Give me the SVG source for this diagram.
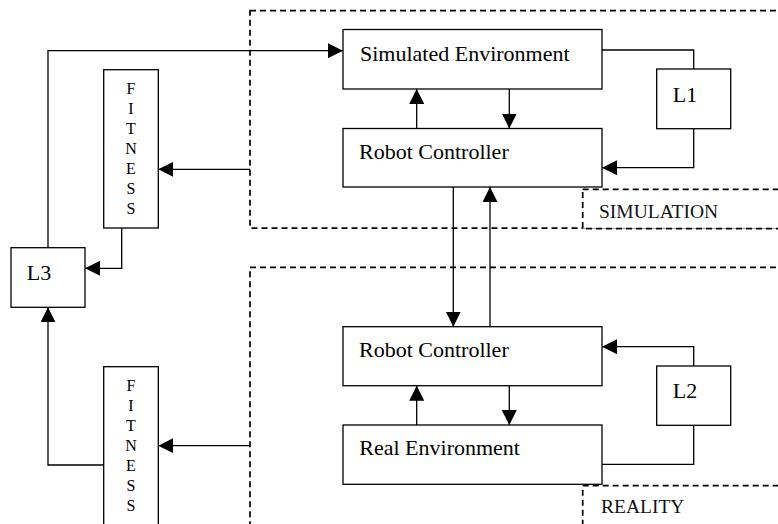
<svg xmlns="http://www.w3.org/2000/svg" width="778" height="524" viewBox="0 0 778 524">
<style>
.box{fill:#fff;stroke:#000;stroke-width:1.3}
.dash{fill:none;stroke:#000;stroke-width:1.7;stroke-dasharray:6 4}
.lbl{fill:#fff;stroke:#000;stroke-width:1.7;stroke-dasharray:6 4}
.t{font-size:22px;fill:#000}
.s{font-size:19.5px;fill:#111}
.f{font-size:16px;fill:#000;text-anchor:middle}
.c{fill:none;stroke:#000;stroke-width:1.3}
</style>
<defs>
<marker id="ah" markerUnits="userSpaceOnUse" markerWidth="15" markerHeight="15" refX="15" refY="7.5" orient="auto">
<path d="M0,0 L15,7.5 L0,15 z" fill="#000"/>
</marker>
</defs>
<rect class="dash" x="250" y="10.7" width="600" height="217.5"/>
<rect class="dash" x="250" y="267.3" width="600" height="300"/>
<g id="connectors">
<path class="c" d="M48,247.7 V50.7 H343" marker-end="url(#ah)"/>
<path class="c" d="M602,50 H693.7 V69"/>
<path class="c" d="M693.7,128.7 V167.7 H602" marker-end="url(#ah)"/>
<path class="c" d="M416.7,128.5 V89" marker-end="url(#ah)"/>
<path class="c" d="M509.3,89 V128.5" marker-end="url(#ah)"/>
<path class="c" d="M250,169.3 H158.3" marker-end="url(#ah)"/>
<path class="c" d="M121.7,228 V268.3 H85" marker-end="url(#ah)"/>
<path class="c" d="M453.3,187 V326.7" marker-end="url(#ah)"/>
<path class="c" d="M490,326.7 V187" marker-end="url(#ah)"/>
<path class="c" d="M693.7,366 V346.7 H602" marker-end="url(#ah)"/>
<path class="c" d="M602,464.3 H693.7 V425.3"/>
<path class="c" d="M509.3,385.7 V425" marker-end="url(#ah)"/>
<path class="c" d="M416.7,425 V385.7" marker-end="url(#ah)"/>
<path class="c" d="M250,445.7 H158.3" marker-end="url(#ah)"/>
<path class="c" d="M103.7,465 H48 V307.3" marker-end="url(#ah)"/>
</g>
<g font-family="Liberation Serif, DejaVu Serif, Times New Roman, serif">
<g id="simulation-label">
<rect class="lbl" x="582.7" y="189.3" width="300" height="39.3"/>
<text class="s" x="599" y="218.3">SIMULATION</text>
</g>
<g id="reality-label">
<rect class="lbl" x="582.7" y="485.7" width="300" height="100"/>
<text class="s" x="601" y="513.3">REALITY</text>
</g>
<g id="sim-env">
<rect class="box" x="343" y="29.5" width="259" height="59.5"/>
<text class="t" x="360" y="60.7">Simulated Environment</text>
</g>
<g id="sim-rc">
<rect class="box" x="343" y="128.5" width="259" height="58.5"/>
<text class="t" x="359" y="159">Robot Controller</text>
</g>
<g id="l1">
<rect class="box" x="656.7" y="69" width="74" height="59.7"/>
<text class="t" x="672.7" y="101.7">L1</text>
</g>
<g id="real-rc">
<rect class="box" x="343" y="326.7" width="259" height="59"/>
<text class="t" x="359" y="356.7">Robot Controller</text>
</g>
<g id="real-env">
<rect class="box" x="343" y="425" width="259" height="59.3"/>
<text class="t" x="359.3" y="455">Real Environment</text>
</g>
<g id="l2">
<rect class="box" x="656.7" y="366" width="74" height="59.3"/>
<text class="t" x="672.7" y="398.3">L2</text>
</g>
<g id="l3">
<rect class="box" x="11" y="247.7" width="74" height="59.6"/>
<text class="t" x="26.7" y="280">L3</text>
</g>
<g id="fitness-sim">
<rect class="box" x="103.7" y="69.7" width="54.6" height="158.3"/>
<text class="f" x="131">
<tspan x="131" y="94.3">F</tspan><tspan x="131" y="114.3">I</tspan><tspan x="131" y="134.3">T</tspan><tspan x="131" y="154.3">N</tspan><tspan x="131" y="174.3">E</tspan><tspan x="131" y="194.3">S</tspan><tspan x="131" y="214.3">S</tspan>
</text>
</g>
<g id="fitness-real">
<rect class="box" x="103.7" y="366.7" width="54.6" height="200"/>
<text class="f" x="131">
<tspan x="131" y="391">F</tspan><tspan x="131" y="411">I</tspan><tspan x="131" y="431">T</tspan><tspan x="131" y="451">N</tspan><tspan x="131" y="471">E</tspan><tspan x="131" y="491">S</tspan><tspan x="131" y="511">S</tspan>
</text>
</g>
</g>
</svg>
